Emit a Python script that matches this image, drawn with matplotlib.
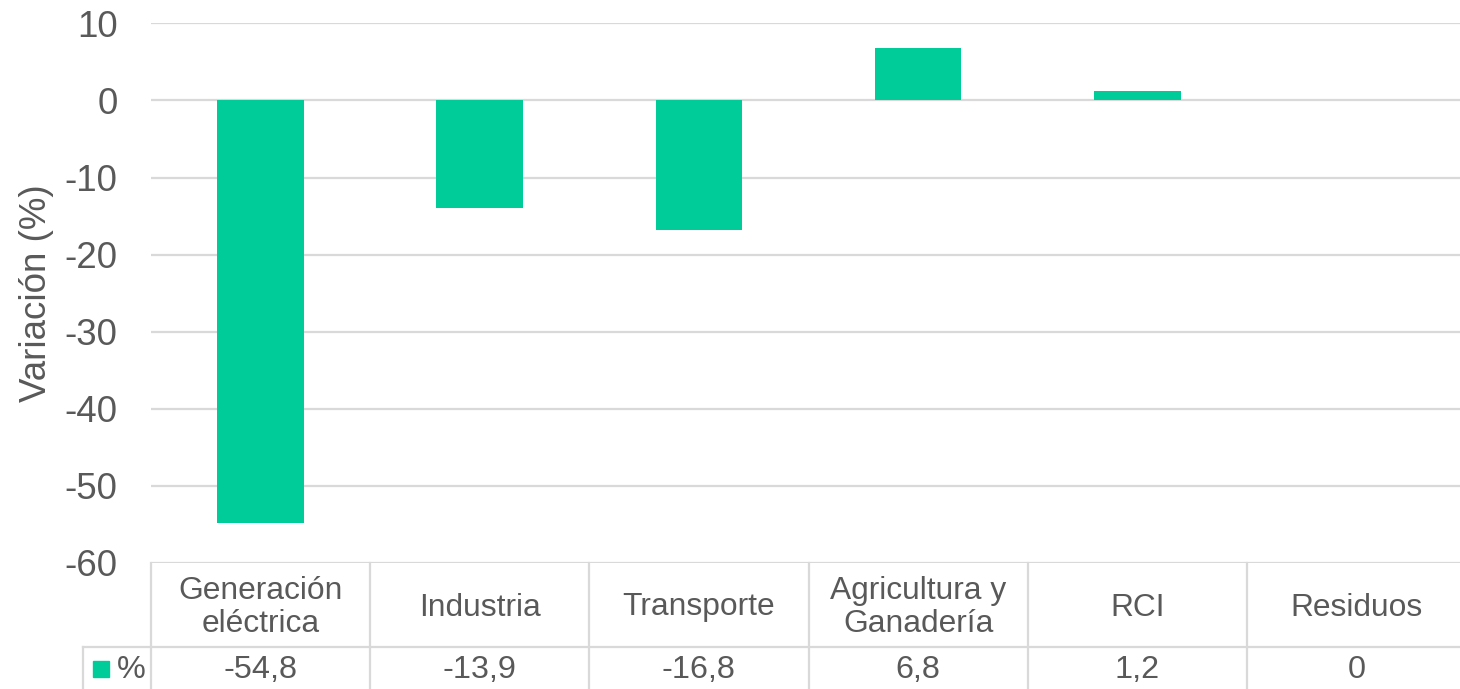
import matplotlib
matplotlib.use("Agg")
import matplotlib.pyplot as plt
from matplotlib.lines import Line2D
from matplotlib.patches import Rectangle
import matplotlib.transforms as mtransforms

categories = ["Generación\neléctrica", "Industria", "Transporte", "Agricultura y\nGanadería", "RCI", "Residuos"]
values = [-54.8, -13.9, -16.8, 6.8, 1.2, 0]
value_labels = ["-54,8", "-13,9", "-16,8", "6,8", "1,2", "0"]
series_name = "%"
yticks = [10, 0, -10, -20, -30, -40, -50, -60]

BAR = "#00CC99"
TXT = "#595959"
GRID = "#D9D9D9"
FONT = "Liberation Sans"

W, H = 1460, 689
fig = plt.figure(figsize=(W / 100, H / 100), dpi=100)
plt.rcParams["font.family"] = [FONT, "DejaVu Sans"]

ax_left, ax_right = 151, 1466
ax_top, ax_bot = 23.3, 563
ax = fig.add_axes([ax_left / W, 1 - ax_bot / H, (ax_right - ax_left) / W, (ax_bot - ax_top) / H])

x = list(range(len(categories)))
ax.bar(x, values, width=0.395, color=BAR, zorder=3)
ax.set_xlim(-0.5, len(categories) - 0.5)
ax.set_ylim(-60, 10)
ax.set_yticks(yticks)
ax.set_yticklabels([str(v) for v in yticks])
ax.tick_params(axis="y", length=0, pad=24, labelsize=26.5, labelcolor=TXT)
ax.set_xticks([])
for s in ax.spines.values():
    s.set_visible(False)
ax.grid(axis="y", color=GRID, linewidth=1.6, zorder=0)
ax.set_axisbelow(True)
ax.set_ylabel("Variación (%)", fontsize=26.5, color=TXT, va="center")
ax.yaxis.set_label_coords((37 - ax_left) / (ax_right - ax_left), 0.5)

# data table below the plot
blend = mtransforms.blended_transform_factory(ax.transData, fig.transFigure)
def fy(py):
    return 1 - py / H

row1_top, row_mid, row_bot = 563, 647, 731
hdr_left = 83

fig.add_artist(Line2D([-0.5, len(categories) - 0.5], [fy(row_mid), fy(row_mid)], transform=blend, color=GRID, lw=1.6, clip_on=False))
fig.add_artist(Line2D([hdr_left / W, ax_left / W], [fy(row_mid), fy(row_mid)], transform=fig.transFigure, color=GRID, lw=1.6, clip_on=False))
for b in range(len(categories) + 1):
    xb = b - 0.5
    fig.add_artist(Line2D([xb, xb], [fy(row1_top), fy(row_bot)], transform=blend, color=GRID, lw=1.6, clip_on=False))
fig.add_artist(Line2D([hdr_left / W, hdr_left / W], [fy(row_mid), fy(row_bot)], transform=fig.transFigure, color=GRID, lw=1.6, clip_on=False))

for i, (c, vl) in enumerate(zip(categories, value_labels)):
    fig.text(i, fy(607.5), c, transform=blend, ha="center", va="center", fontsize=22.9, color=TXT, linespacing=1.15)
    fig.text(i, fy(670.5), vl, transform=blend, ha="center", va="center", fontsize=23.3, color=TXT)

fig.add_artist(Rectangle((93 / W, fy(677)), 16 / W, 16 / H, transform=fig.transFigure, color=BAR))
fig.text(131 / W, fy(670.5), series_name, ha="center", va="center", fontsize=23.3, color=TXT)

fig.savefig("out.png", dpi=100)
